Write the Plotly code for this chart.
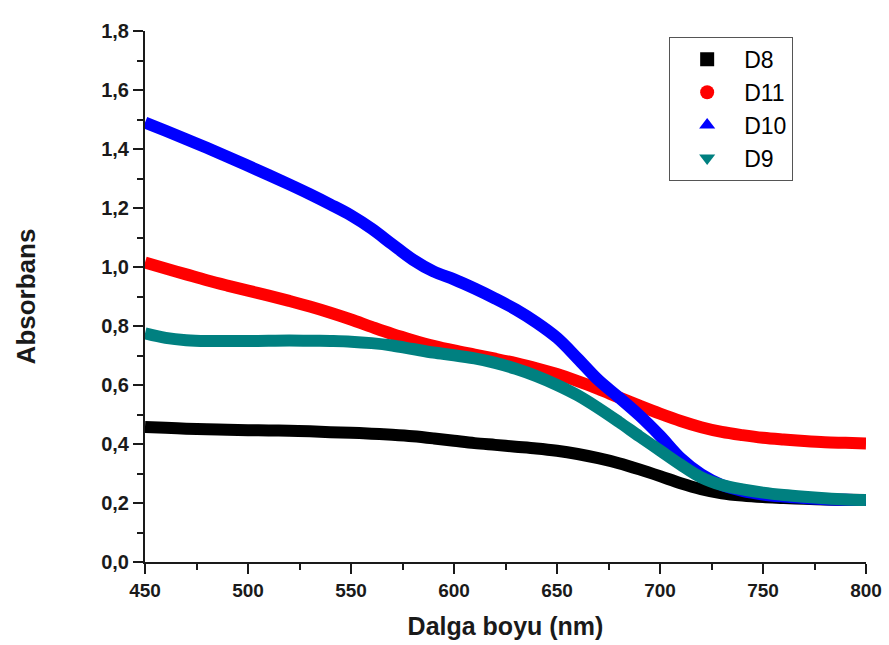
import plotly.graph_objects as go

wavelength = [450, 460, 470, 480, 490, 500, 510, 520, 530, 540, 550, 560, 570, 580, 590,
              600, 610, 620, 630, 640, 650, 660, 670, 680, 690, 700, 710, 720, 730, 740,
              750, 760, 770, 780, 790, 800]

d8 = [0.458, 0.455, 0.452, 0.450, 0.448, 0.447, 0.446, 0.445, 0.443, 0.440, 0.438, 0.435,
      0.431, 0.426, 0.419, 0.411, 0.403, 0.397, 0.391, 0.385, 0.377, 0.366, 0.352, 0.335,
      0.314, 0.291, 0.267, 0.247, 0.233, 0.225, 0.220, 0.217, 0.214, 0.212, 0.211, 0.210]

d11 = [1.015, 0.995, 0.975, 0.955, 0.937, 0.920, 0.903, 0.885, 0.866, 0.845, 0.822, 0.797,
       0.773, 0.752, 0.733, 0.717, 0.703, 0.689, 0.674, 0.657, 0.637, 0.613, 0.587, 0.558,
       0.530, 0.503, 0.478, 0.457, 0.441, 0.430, 0.421, 0.415, 0.410, 0.406, 0.404, 0.402]

d10 = [1.490, 1.462, 1.433, 1.404, 1.374, 1.343, 1.312, 1.280, 1.247, 1.212, 1.175, 1.130,
       1.077, 1.025, 0.985, 0.958, 0.927, 0.893, 0.856, 0.812, 0.760, 0.690, 0.617, 0.558,
       0.497, 0.428, 0.352, 0.297, 0.261, 0.241, 0.229, 0.222, 0.217, 0.213, 0.211, 0.210]

d9 = [0.775, 0.760, 0.752, 0.749, 0.749, 0.749, 0.750, 0.751, 0.750, 0.749, 0.747, 0.742,
      0.734, 0.722, 0.710, 0.701, 0.690, 0.675, 0.655, 0.630, 0.600, 0.565, 0.522, 0.475,
      0.426, 0.378, 0.330, 0.287, 0.261, 0.246, 0.235, 0.227, 0.221, 0.216, 0.212, 0.210]

names = ["D8", "D11", "D10", "D9"]
series = [d8, d11, d10, d9]
colors = ["#000000", "#FF0000", "#0000FF", "#008080"]
symbols = ["square", "circle", "triangle-up", "triangle-down"]

fig = go.Figure()
for name, ys, c in zip(names, series, colors):
    fig.add_trace(go.Scatter(x=wavelength, y=ys, mode="lines", name=name,
                             line=dict(color=c, width=12, shape="spline"),
                             showlegend=False))
for name, c, s in zip(names, colors, symbols):
    fig.add_trace(go.Scatter(x=[None], y=[None], mode="markers", name=name,
                             marker=dict(color=c, symbol=s, size=14),
                             legendgroup=name, showlegend=True))

ff = "Arial, Liberation Sans, sans-serif"
fig.update_layout(
    width=889, height=645,
    margin=dict(l=145, r=23, t=31, b=83),
    paper_bgcolor="white", plot_bgcolor="white",
    separators=", ",
    showlegend=True,
    legend=dict(x=0.727, y=0.989, xanchor="left", yanchor="top",
                bordercolor="#555555", borderwidth=1, bgcolor="white",
                font=dict(family=ff, size=23, color="black"),
                traceorder="grouped", tracegroupgap=0,
                itemwidth=64),
    xaxis=dict(range=[450, 800], dtick=50, tick0=450, showgrid=False, zeroline=False,
               automargin=False,
               showline=True, linecolor="#1a1a1a", linewidth=2,
               ticks="outside", ticklen=10, tickwidth=2, tickcolor="#1a1a1a",
               minor=dict(dtick=25, ticks="outside", ticklen=6, tickwidth=2, tickcolor="#1a1a1a"),
               tickfont=dict(family=ff, size=19, color="#1a1a1a", weight="bold"),
               title=dict(text="<b>Dalga boyu (nm)</b>", font=dict(family=ff, size=25, color="#1a1a1a"), standoff=18)),
    yaxis=dict(range=[0, 1.8], dtick=0.2, tick0=0, tickformat=".1f", showgrid=False, zeroline=False,
               automargin=False,
               showline=True, linecolor="#1a1a1a", linewidth=2,
               ticks="outside", ticklen=10, tickwidth=2, tickcolor="#1a1a1a",
               minor=dict(dtick=0.1, ticks="outside", ticklen=6, tickwidth=2, tickcolor="#1a1a1a"),
               tickfont=dict(family=ff, size=20, color="#1a1a1a", weight="bold"),
               title=dict(text="<b>Absorbans</b>", font=dict(family=ff, size=26, color="#1a1a1a"), standoff=58)),
)

fig.write_html("out.html")
